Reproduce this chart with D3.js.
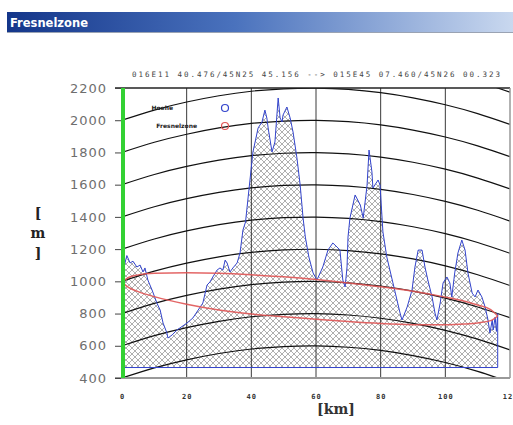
<!DOCTYPE html>
<html>
<head>
<meta charset="utf-8">
<script src="https://cdn.jsdelivr.net/npm/d3@7"></script>
<style>
  body { margin: 0; background: #fff; }
  svg { display: block; }
</style>
</head>
<body>
<script>
// canvas size
var w = 513;
var h = 425;

// terrain profile (km along path, elevation in m)
const profileKm = [0, 0.5, 1.5, 2.5, 3.4, 4.6, 5.6, 6.5, 7.1, 8.0, 9.3, 10.8, 11.8, 12.7, 13.9, 14.2, 15.5, 17.0, 20.1, 21.9,
  25.0, 26.3, 27.2, 28.1, 29.4, 30.3, 31.2, 31.9, 32.5, 33.4, 34.3, 35.6, 36.5, 37.4, 38.2, 40.5, 42.1, 43.3, 44.2, 44.8,
  45.2, 46.4, 47.3, 48.3, 48.9, 49.5, 49.8, 51.0, 52.0, 52.9, 54.1, 55.1, 56.0, 56.7, 57.8, 59.1, 60.3, 62.1, 63.7, 65.2,
  66.5, 67.4, 68.3, 69.0, 69.6, 69.9, 70.5, 72.1, 73.7, 74.6, 75.8, 76.4, 77.3, 77.6, 79.2, 79.8, 80.7, 81.9, 83.8, 86.0,
  86.6, 88.2, 89.7, 90.6, 91.6, 92.8, 93.7, 94.6, 95.9, 96.8, 97.4, 98.4, 99.3, 100.5, 101.4, 102.0, 102.9, 103.9, 105.1, 106.1,
  107.0, 108.3, 109.2, 110.1, 111.3, 112.3, 113.2, 113.8, 114.5, 114.8, 115.4, 115.8, 116.2];
const profileElev = [1000, 1080, 1160, 1114, 1125, 1089, 1101, 1058, 1083, 1008, 946, 865, 822, 741, 679, 648, 667, 698, 741, 772,
  865, 977, 996, 1027, 1070, 1083, 1070, 1132, 1114, 1058, 1083, 1114, 1176, 1318, 1368, 1803, 1952, 1989, 2063, 2014,
  1952, 1803, 1865, 2138, 2014, 1989, 2032, 2082, 2014, 1927, 1766, 1598, 1393, 1275, 1151, 1052, 1008, 1089, 1194, 1238,
  1213, 1194, 1008, 965, 1089, 1275, 1393, 1536, 1474, 1393, 1598, 1815, 1679, 1579, 1629, 1598, 1306, 1151, 990, 803,
  760, 841, 946, 1089, 1194, 1194, 1089, 1008, 903, 803, 760, 865, 990, 1027, 990, 903, 1052, 1176, 1256, 1194,
  1052, 927, 903, 946, 903, 841, 760, 679, 760, 698, 778, 690, 800];
const baseLevel = 465;

// fresnel zone limits
const fresnelKm = [0, 2, 5, 10, 20, 30, 40, 50, 60, 70, 80, 90, 100, 106, 110, 114, 116.2];
const fresnelUpper = [995, 1024, 1040, 1050, 1053, 1050, 1041, 1028, 1011, 990, 966, 938, 902, 876, 853, 824, 785];
const fresnelLower = [995, 962, 936, 905, 858, 822, 797, 780, 765, 750, 738, 731, 730, 735, 742, 756, 785];

// earth curvature reference lines
const curveKm = [0, 10, 20, 30, 40, 50, 60, 70, 80, 90, 100, 110, 120];
const curveBulge = [0, 63, 113, 152, 180, 195, 199, 191, 171, 139, 96, 41, -26];
const curveBases = [400, 600, 800, 1000, 1200, 1400, 1600, 1800, 2000, 2200];

// ticks and labels
const yTicks = [400, 600, 800, 1000, 1200, 1400, 1600, 1800, 2000, 2200];
const xTicks = [0, 20, 40, 60, 80, 100, 120];
const gridKm = [20, 40, 60, 80, 100];
const legendItems = ["Hoehe", "Fresnelzone"];
const legendColors = ["#3344cc", "#e05555"];
const routeText = "016E11 40.476/45N25 45.156 --> 015E45 07.460/45N26 00.323";

const xScale = d3.scaleLinear().domain([0, 120]).range([122, 510]);
const yScale = d3.scaleLinear().domain([400, 2200]).range([378, 88]);

const svg = d3.select("body")
  .append("svg")
    .attr("width", w)
    .attr("height", h);

const defs = svg.append("defs");

// title bar gradient
const grad = defs.append("linearGradient").attr("id", "titleGrad");
grad.append("stop").attr("offset", "0%").attr("stop-color", "#14368a");
grad.append("stop").attr("offset", "45%").attr("stop-color", "#4a72bd");
grad.append("stop").attr("offset", "100%").attr("stop-color", "#c9d8ef");

// cross hatch
const pat = defs.append("pattern")
  .attr("id", "hatch")
  .attr("width", 6).attr("height", 6)
  .attr("patternUnits", "userSpaceOnUse");
pat.append("rect").attr("width", 6).attr("height", 6).attr("fill", "#fff");
pat.append("path").attr("d", "M0,0L6,6M6,0L0,6").attr("stroke", "#9a9a9a").attr("stroke-width", 0.8);

defs.append("clipPath").attr("id", "plotClip")
  .append("rect")
    .attr("x", xScale(0)).attr("y", yScale(2200))
    .attr("width", xScale(120) - xScale(0))
    .attr("height", yScale(400) - yScale(2200));

// title bar
svg.append("rect")
  .attr("x", 7).attr("y", 12)
  .attr("width", w - 7).attr("height", 20)
  .attr("fill", "url(#titleGrad)");
svg.append("line")
  .attr("x1", 7).attr("x2", w).attr("y1", 32.5).attr("y2", 32.5)
  .attr("stroke", "#9aa3b3");
svg.append("text")
  .attr("x", 10).attr("y", 27)
  .attr("fill", "#fff")
  .attr("font-family", "DejaVu Sans")
  .attr("font-weight", "bold")
  .attr("font-size", 11.5)
  .text("Fresnelzone");

// route text above plot
svg.append("text")
  .attr("x", 132).attr("y", 77)
  .attr("textLength", 368)
  .attr("lengthAdjust", "spacing")
  .attr("font-family", "DejaVu Sans Mono")
  .attr("font-size", 7.5)
  .attr("fill", "#444")
  .text(routeText);

const plot = svg.append("g").attr("clip-path", "url(#plotClip)");

// hatched terrain
const area = d3.area()
  .x((d, i) => xScale(profileKm[i]))
  .y0(yScale(baseLevel))
  .y1(d => yScale(d));
plot.append("path")
  .datum(profileElev)
  .attr("d", area)
  .attr("fill", "url(#hatch)");

// vertical grid
plot.selectAll(".vgrid")
  .data(gridKm)
  .enter()
  .append("line")
    .attr("x1", d => xScale(d)).attr("x2", d => xScale(d))
    .attr("y1", yScale(2200)).attr("y2", yScale(400))
    .attr("stroke", "#3a3a3a")
    .attr("stroke-width", 1);

// curvature lines
const curveLine = d3.line()
  .x((d, i) => xScale(curveKm[i]))
  .y(d => yScale(d))
  .curve(d3.curveNatural);
plot.selectAll(".earth")
  .data(curveBases)
  .enter()
  .append("path")
    .attr("d", b => curveLine(curveBulge.map(v => b + v)))
    .attr("fill", "none")
    .attr("stroke", "#111")
    .attr("stroke-width", 1.2);

// terrain outline incl. base line
const terrainPts = profileKm.map((k, i) => [k, profileElev[i]]);
terrainPts.push([profileKm[profileKm.length - 1], baseLevel]);
terrainPts.push([0, baseLevel]);
plot.append("path")
  .attr("d", d3.line().x(d => xScale(d[0])).y(d => yScale(d[1]))(terrainPts))
  .attr("fill", "none")
  .attr("stroke", "#3344cc")
  .attr("stroke-width", 1);

// fresnel zone
const fLine = d3.line()
  .x((d, i) => xScale(fresnelKm[i]))
  .y(d => yScale(d))
  .curve(d3.curveMonotoneX);
[fresnelUpper, fresnelLower].forEach(s => {
  plot.append("path")
    .attr("d", fLine(s))
    .attr("fill", "none")
    .attr("stroke", "#e05555")
    .attr("stroke-width", 1.5)
    .attr("opacity", 0.9);
});

// plot frame
svg.append("line")
  .attr("x1", 115).attr("x2", xScale(120))
  .attr("y1", yScale(2200)).attr("y2", yScale(2200))
  .attr("stroke", "#222").attr("stroke-width", 1.5);
svg.append("line")
  .attr("x1", xScale(120)).attr("x2", xScale(120))
  .attr("y1", yScale(2200)).attr("y2", yScale(400))
  .attr("stroke", "#999").attr("stroke-width", 1.5);
svg.append("line")
  .attr("x1", 115).attr("x2", xScale(120))
  .attr("y1", yScale(400)).attr("y2", yScale(400))
  .attr("stroke", "#999").attr("stroke-width", 2);

// left green bar
svg.append("line")
  .attr("x1", xScale(0) + 1).attr("x2", xScale(0) + 1)
  .attr("y1", yScale(2200)).attr("y2", yScale(400))
  .attr("stroke", "#33d133").attr("stroke-width", 4);

// y axis
const yAxis = d3.axisLeft(yScale)
  .tickValues(yTicks)
  .tickFormat(d3.format("d"))
  .tickSize(6)
  .tickPadding(8);
const yg = svg.append("g")
  .attr("transform", `translate(${xScale(0) - 1}, 0)`)
  .call(yAxis);
yg.select(".domain").remove();
yg.selectAll("line").attr("stroke", "#444");
yg.selectAll("text")
  .attr("font-family", "DejaVu Sans")
  .attr("font-size", 13)
  .attr("letter-spacing", 1)
  .attr("fill", "#6e6e6e");

// x axis labels
const xAxis = d3.axisBottom(xScale)
  .tickValues(xTicks)
  .tickSize(0)
  .tickPadding(16);
const xg = svg.append("g")
  .attr("transform", `translate(0, ${yScale(400)})`)
  .call(xAxis);
xg.select(".domain").remove();
xg.selectAll("text")
  .attr("font-family", "DejaVu Sans Mono")
  .attr("font-weight", "bold")
  .attr("font-size", 7)
  .attr("letter-spacing", 1)
  .attr("fill", "#333");

// axis titles
svg.append("text")
  .attr("x", 336).attr("y", 414)
  .attr("text-anchor", "middle")
  .attr("font-family", "DejaVu Serif")
  .attr("font-weight", "bold")
  .attr("font-size", 14)
  .attr("fill", "#333")
  .text("[km]");
const ylab = svg.append("text")
  .attr("x", 38).attr("y", 218)
  .attr("text-anchor", "middle")
  .attr("font-family", "DejaVu Serif")
  .attr("font-weight", "bold")
  .attr("font-size", 14)
  .attr("fill", "#222");
ylab.selectAll("tspan")
  .data(["[", "m", "]"])
  .enter()
  .append("tspan")
    .attr("x", 38)
    .attr("dy", (d, i) => i === 0 ? 0 : 20)
    .text(d => d);

// legend
const leg = svg.selectAll(".legend")
  .data(legendItems)
  .enter()
  .append("g")
    .attr("transform", (d, i) => `translate(0, ${108 + i * 18})`);
leg.append("text")
  .attr("x", (d, i) => i === 0 ? 173 : 197)
  .attr("y", 2)
  .attr("text-anchor", "end")
  .attr("font-family", "DejaVu Sans")
  .attr("font-weight", "bold")
  .attr("font-size", 6)
  .attr("fill", "#222")
  .text(d => d);
leg.append("circle")
  .attr("cx", 225).attr("cy", 0).attr("r", 3.5)
  .attr("fill", "none")
  .attr("stroke", (d, i) => legendColors[i])
  .attr("stroke-width", 1.2);
</script>
</body>
</html>
